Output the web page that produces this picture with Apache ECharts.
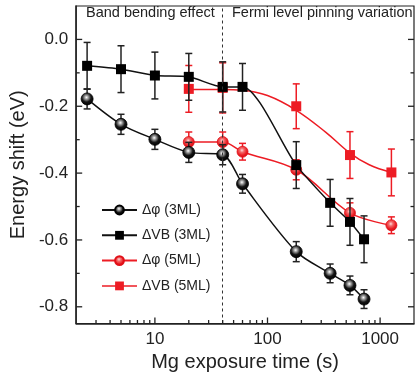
<!DOCTYPE html>
<html><head><meta charset="utf-8">
<script src="https://cdn.jsdelivr.net/npm/echarts@6/dist/echarts.min.js"></script>
<style>html,body{margin:0;padding:0;background:#fff}#c{width:417px;height:380px}</style>
</head><body><div id="c"></div><script>
// ---- data ----
const phi3Time  = [2.5, 5, 10, 20, 40, 60, 180, 360, 540, 720];
const phi3Shift = [-0.178, -0.254, -0.299, -0.338, -0.345, -0.432, -0.635, -0.700, -0.736, -0.777];
const phi3Err   = [0.03, 0.03, 0.03, 0.03, 0.03, 0.028, 0.03, 0.028, 0.028, 0.028];

const vb3Time  = [2.5, 5, 10, 20, 40, 60, 180, 360, 540, 720];
const vb3Shift = [-0.079, -0.089, -0.108, -0.112, -0.142, -0.142, -0.376, -0.489, -0.546, -0.598];
const vb3Err   = [0.07, 0.07, 0.07, 0.07, 0.075, 0.07, 0.07, 0.07, 0.07, 0.07];

const phi5Time  = [20, 40, 60, 180, 540, 1260];
const phi5Shift = [-0.307, -0.307, -0.336, -0.390, -0.519, -0.556];
const phi5Err   = [0.03, 0.03, 0.025, 0.03, 0.03, 0.025];

const vb5Time  = [20, 40, 180, 540, 1260];
const vb5Shift = [-0.148, -0.145, -0.200, -0.346, -0.398];
const vb5Err   = [0.07, 0.075, 0.067, 0.07, 0.07];

// fitted curve through the ΔVB (5ML) data
const vb5FitTime  = [20, 40, 60, 100, 180, 330, 540, 800, 1260];
const vb5FitShift = [-0.150, -0.150, -0.152, -0.168, -0.212, -0.278, -0.340, -0.375, -0.398];

const regionBoundary = 40;

const xMajorTicks = [10, 100, 1000];
const xMinorTicks = [3, 4, 5, 6, 7, 8, 9, 20, 30, 40, 50, 60, 70, 80, 90, 200, 300, 400, 500, 600, 700, 800, 900];
const yMajorTicks = [-0.8, -0.6, -0.4, -0.2, 0.0];
const yMinorTicks = [-0.7, -0.5, -0.3, -0.1];

const seriesNames = ['Δφ (3ML)', 'ΔVB (3ML)', 'Δφ (5ML)', 'ΔVB (5ML)'];
const regionLabels = ['Band bending effect', 'Fermi level pinning variation'];
const xTitle = 'Mg exposure time (s)';
const yTitle = 'Energy shift (eV)';

// ---- build ----
const BLACK = '#111111', RED = '#ed1c24';
const zip = (a, b) => a.map((v, i) => [v, b[i]]);
const zip3 = (a, b, c) => a.map((v, i) => [v, b[i], c[i]]);

const chart = echarts.init(document.getElementById('c'), null, {renderer: 'canvas'});

const blackBall = new echarts.graphic.RadialGradient(0.45, 0.38, 0.6, [
  {offset: 0, color: '#ffffff'}, {offset: 0.25, color: '#9a9a9a'}, {offset: 0.6, color: '#151515'}, {offset: 1, color: '#000'}]);
const redBall = new echarts.graphic.RadialGradient(0.45, 0.38, 0.6, [
  {offset: 0, color: '#ffd8d8'}, {offset: 0.3, color: '#f36a6a'}, {offset: 0.7, color: '#ea1e24'}, {offset: 1, color: '#d81018'}]);

function errRender(color) {
  return function (params, api) {
    const x = api.value(0), y = api.value(1), e = api.value(2);
    const t = api.coord([x, y + e]), b = api.coord([x, y - e]);
    const w = 3.5;
    const st = {stroke: color, lineWidth: 1.5};
    return {type: 'group', children: [
      {type: 'line', shape: {x1: t[0], y1: t[1], x2: b[0], y2: b[1]}, style: st},
      {type: 'line', shape: {x1: t[0] - w, y1: t[1], x2: t[0] + w, y2: t[1]}, style: st},
      {type: 'line', shape: {x1: b[0] - w, y1: b[1], x2: b[0] + w, y2: b[1]}, style: st}
    ]};
  };
}

// tick items: [x, y, kind]
const tickData = []
  .concat(xMajorTicks.map(v => [v, -0.5, 0]))
  .concat(xMinorTicks.map(v => [v, -0.5, 1]))
  .concat(yMajorTicks.map(v => [10, v, 2]))
  .concat(yMinorTicks.map(v => [10, v, 3]));

function tickRender(params, api) {
  const cs = params.coordSys;
  const kind = api.value(2);
  const p = api.coord([api.value(0), api.value(1)]);
  const st = {stroke: '#222', lineWidth: 1.3};
  const bottom = cs.y + cs.height, left = cs.x, right = cs.x + cs.width;
  if (kind === 0 || kind === 1) {
    const len = kind === 0 ? 6 : 3.5;
    return {type: 'line', shape: {x1: p[0], y1: bottom, x2: p[0], y2: bottom - len}, style: st};
  }
  const len = kind === 2 ? 6 : 3.5;
  return {type: 'group', children: [
    {type: 'line', shape: {x1: left, y1: p[1], x2: left + len, y2: p[1]}, style: st},
    {type: 'line', shape: {x1: right, y1: p[1], x2: right - len, y2: p[1]}, style: st}
  ]};
}

const FONT = 'Liberation Sans, Arial, sans-serif';

const option = {
  animation: false,
  backgroundColor: '#fff',
  grid: {left: 75, top: 6, right: -3, bottom: 56.5, show: true, borderColor: '#222', borderWidth: 1.2},
  xAxis: {
    type: 'log', logBase: 10, min: 2, max: 2000,
    axisLine: {show: true, onZero: false, lineStyle: {color: '#222', width: 1.5}},
    axisTick: {show: false}, splitLine: {show: false}, minorTick: {show: false},
    axisLabel: {
      fontFamily: FONT, fontSize: 17, color: '#222', margin: 7,
      formatter: v => { const r = Math.round(v); return xMajorTicks.includes(r) && Math.abs(v - r) < 1e-6 * r ? String(r) : ''; }
    },
    name: xTitle, nameLocation: 'middle', nameGap: 25.5,
    nameTextStyle: {fontFamily: FONT, fontSize: 20, color: '#222'}
  },
  yAxis: {
    type: 'value', min: -0.85, max: 0.1, interval: 0.05,
    axisLine: {show: true, onZero: false, lineStyle: {color: '#222', width: 1.5}},
    axisTick: {show: false}, splitLine: {show: false},
    axisLabel: {
      fontFamily: FONT, fontSize: 17, color: '#222', margin: 8,
      formatter: v => {
        const r = Math.round(v * 10);
        if (Math.abs(v * 10 - r) > 1e-6 || r % 2 !== 0) return '';
        return r === 0 ? '0.0' : (r / 10).toFixed(1);
      }
    },
    name: yTitle, nameLocation: 'middle', nameGap: 42,
    nameTextStyle: {fontFamily: FONT, fontSize: 20, color: '#222'}
  },
  legend: {
    orient: 'vertical', left: 96, top: 198, itemWidth: 35, itemHeight: 11, itemGap: 11.3,
    textStyle: {fontFamily: FONT, fontSize: 14, color: '#222'},
    data: [
      {name: seriesNames[0]},
      {name: seriesNames[1]},
      {name: seriesNames[2]},
      {name: seriesNames[3], lineStyle: {color: RED, width: 1.5, opacity: 1}}
    ]
  },
  graphic: [
    {type: 'text', left: 86, top: 5, style: {text: regionLabels[0], font: '14.5px ' + FONT, fill: '#222'}},
    {type: 'text', left: 232, top: 5, style: {text: regionLabels[1], font: '14.5px ' + FONT, fill: '#222'}}
  ],
  series: [
    {type: 'custom', name: 'ticks', data: tickData, renderItem: tickRender, silent: true, z: 10,
     encode: {x: 0, y: 1},
     markLine: {silent: true, symbol: 'none', label: {show: false},
       lineStyle: {color: '#333', type: [3, 3], width: 1},
       data: [{xAxis: regionBoundary}]}},
    {type: 'custom', name: 'err5phi', data: zip3(phi5Time, phi5Shift, phi5Err), renderItem: errRender(RED), encode: {x: 0, y: 1}, z: 2},
    {type: 'custom', name: 'err5vb', data: zip3(vb5Time, vb5Shift, vb5Err), renderItem: errRender(RED), encode: {x: 0, y: 1}, z: 2},
    {type: 'line', name: 'vb5fit', data: zip(vb5FitTime, vb5FitShift), smooth: 0.4, showSymbol: false,
     lineStyle: {color: RED, width: 1.5}, itemStyle: {color: RED}, z: 2},
    {type: 'line', name: seriesNames[2], data: zip(phi5Time, phi5Shift), smooth: 0.35,
     symbol: 'circle', symbolSize: 11, lineStyle: {color: RED, width: 1.5},
     itemStyle: {color: redBall, borderColor: '#e01018', borderWidth: 0.8}, z: 2},
    {type: 'line', name: seriesNames[3], data: zip(vb5Time, vb5Shift),
     symbol: 'rect', symbolSize: 10, lineStyle: {color: RED, width: 1.5, opacity: 0},
     itemStyle: {color: RED}, z: 2},
    {type: 'custom', name: 'err3phi', data: zip3(phi3Time, phi3Shift, phi3Err), renderItem: errRender('#222'), encode: {x: 0, y: 1}, z: 3},
    {type: 'custom', name: 'err3vb', data: zip3(vb3Time, vb3Shift, vb3Err), renderItem: errRender('#222'), encode: {x: 0, y: 1}, z: 3},
    {type: 'line', name: seriesNames[0], data: zip(phi3Time, phi3Shift), smooth: 0.3,
     symbol: 'circle', symbolSize: 12, lineStyle: {color: BLACK, width: 1.5},
     itemStyle: {color: blackBall, borderColor: '#000', borderWidth: 0.8}, z: 3},
    {type: 'line', name: seriesNames[1], data: zip(vb3Time, vb3Shift), smooth: 0.25,
     symbol: 'rect', symbolSize: 10, lineStyle: {color: BLACK, width: 1.5},
     itemStyle: {color: '#000'}, z: 3}
  ]
};
chart.setOption(option);
</script></body></html>
